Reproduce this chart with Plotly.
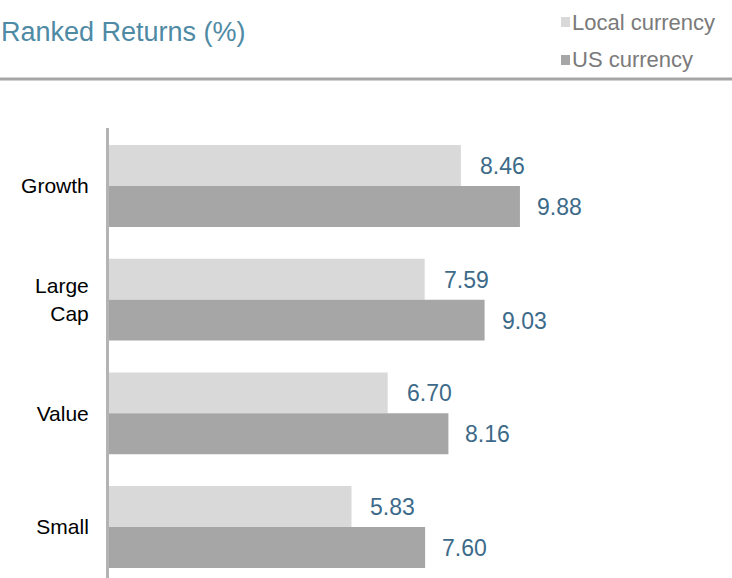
import plotly.graph_objects as go

# ---- data ----
categories = ["Growth", "Large<br>Cap", "Value", "Small"]
local_currency = [8.46, 7.59, 6.70, 5.83]
us_currency = [9.88, 9.03, 8.16, 7.60]
series_names = ["Local currency", "US currency"]
value_labels_local = ["8.46", "7.59", "6.70", "5.83"]
value_labels_us = ["9.88", "9.03", "8.16", "7.60"]
title_text = "Ranked Returns (%)"

# ---- style ----
W, H = 732, 578
ML, MR, MT, MB = 109, 12, 128, 0
PW, PH = W - ML - MR, H - MT - MB
FONT = "Liberation Sans, Arial, sans-serif"
C_LOCAL = "#d9d9d9"
C_US = "#a6a6a6"
C_VAL = "#3d6a89"
C_TITLE = "#4f8aa5"
C_LEG = "#7a7a7a"


def px_x(p):
    return (p - ML) / PW


def px_y(p):
    return (H - MB - p) / PH


fig = go.Figure()
fig.add_trace(go.Bar(y=categories, x=local_currency, orientation="h",
                     name=series_names[0], marker=dict(color=C_LOCAL, line=dict(width=0))))
fig.add_trace(go.Bar(y=categories, x=us_currency, orientation="h",
                     name=series_names[1], marker=dict(color=C_US, line=dict(width=0))))

annotations = []
for cat, v, lab in zip(categories, local_currency, value_labels_local):
    annotations.append(dict(x=v, y=cat, xref="x", yref="y", text=lab, showarrow=False,
                            xanchor="left", yanchor="middle", xshift=17, yshift=20,
                            font=dict(family=FONT, size=23, color=C_VAL)))
for cat, v, lab in zip(categories, us_currency, value_labels_us):
    annotations.append(dict(x=v, y=cat, xref="x", yref="y", text=lab, showarrow=False,
                            xanchor="left", yanchor="middle", xshift=15, yshift=-21,
                            font=dict(family=FONT, size=23, color=C_VAL)))

# title
annotations.append(dict(x=px_x(-1), y=px_y(32), xref="paper", yref="paper", text=title_text,
                        showarrow=False, xanchor="left", yanchor="middle",
                        font=dict(family=FONT, size=27, color=C_TITLE)))
# legend
shapes = []
leg_colors = [C_LOCAL, C_US]
leg_y = [22, 60]
for name, col, yy in zip(series_names, leg_colors, leg_y):
    annotations.append(dict(x=px_x(570), y=px_y(yy), xref="paper", yref="paper", text=name,
                            showarrow=False, xanchor="left", yanchor="middle",
                            font=dict(family=FONT, size=22, color=C_LEG)))
    shapes.append(dict(type="rect", xref="paper", yref="paper",
                       x0=px_x(561), x1=px_x(570), y0=px_y(yy + 5), y1=px_y(yy - 5),
                       fillcolor=col, line=dict(width=0)))
# rule line
shapes.append(dict(type="line", xref="paper", yref="paper", x0=px_x(0), x1=px_x(W),
                   y0=px_y(79), y1=px_y(79), line=dict(color="#a6a6a6", width=3)))

fig.update_layout(
    width=W, height=H,
    margin=dict(l=ML, r=MR, t=MT, b=MB, pad=0),
    paper_bgcolor="white", plot_bgcolor="white",
    barmode="group", bargap=0.28, bargroupgap=0,
    showlegend=False,
    annotations=annotations, shapes=shapes,
    xaxis=dict(range=[0, 14.69], visible=False, fixedrange=True),
    yaxis=dict(type="category", categoryorder="array", categoryarray=categories,
               range=[3.449, -0.51], showline=True, linecolor="#b3b3b3", linewidth=3,
               showgrid=False, zeroline=False, ticks="outside", ticklen=13,
               tickcolor="rgba(0,0,0,0)", fixedrange=True,
               tickfont=dict(family=FONT, size=21, color="#000000")),
)

fig.write_html("out.html", config={"displayModeBar": False},
               post_script="document.body.style.margin='0';document.body.style.overflow='hidden';")
